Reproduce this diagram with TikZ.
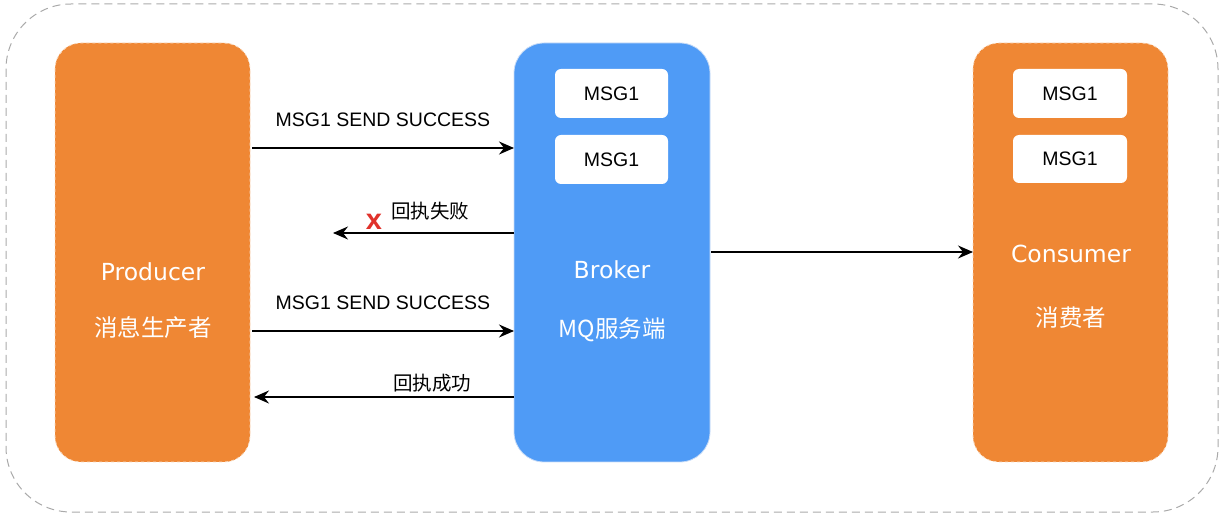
\documentclass[tikz,border=0pt]{standalone}
\usepackage{fontspec}
\setmainfont{Liberation Sans}
\newfontfamily\nodefont{DejaVu Sans}
\newfontfamily\cjk{Noto Sans CJK SC}
\usetikzlibrary{arrows.meta}
\definecolor{orng}{HTML}{EF8734}
\definecolor{orngedge}{HTML}{F8D9BC}
\definecolor{blu}{HTML}{4F9BF6}
\definecolor{bluedge}{HTML}{C8DCF7}
\definecolor{outer}{HTML}{AAAAAA}
\definecolor{xred}{HTML}{E0322B}
\begin{document}
\begin{tikzpicture}[x=1pt,y=-1pt,
  orangebox/.style={fill=orng,draw=orngedge,dashed,line width=0.8pt,rounded corners=26pt},
  bluebox/.style={fill=blu,draw=bluedge,line width=0.8pt,rounded corners=30pt},
  msgbox/.style={fill=white,draw=none,rounded corners=6pt},
  msgtxt/.style={font=\fontsize{19.5}{22}\selectfont,text=black},
  lbl/.style={font=\fontsize{19.5}{22}\selectfont,text=black},
  ntxt/.style={font=\nodefont\fontsize{23.5}{26}\selectfont,text=white},
  ctxt/.style={font=\cjk\fontsize{23.5}{26}\selectfont,text=white},
  arr/.style={-{Stealth[length=15pt,width=13pt,inset=5pt]},line width=1.3pt,black}
]
\useasboundingbox (0,0) rectangle (1224,518);
\draw[outer,dashed,line width=1pt,dash pattern=on 8pt off 5pt,rounded corners=65pt] (6,4) rectangle (1218,512);

% main boxes
\draw[orangebox] (55,43) rectangle (250,462);
\draw[bluebox] (514,43) rectangle (710,462);
\draw[orangebox] (973,43) rectangle (1168,462);

% message boxes
\node[msgbox,minimum width=113pt,minimum height=49pt,msgtxt] (bm1) at (611.5,93.5) {MSG1};
\node[msgbox,minimum width=113pt,minimum height=49pt,msgtxt] (bm2) at (611.5,159.5) {MSG1};
\node[msgbox,minimum width=114pt,minimum height=49pt,msgtxt] (cm1) at (1070,93.5) {MSG1};
\node[msgbox,minimum width=114pt,minimum height=48pt,msgtxt] (cm2) at (1070,159) {MSG1};

% node texts
\node[ntxt] (prodname) at (153,272) {Producer};
\node[ctxt] (prodcn) at (153,328) {消息生产者};
\node[ntxt] (brokname) at (612,270) {Broker};
\node[ctxt] (brokcn) at (612,330) {MQ服务端};
\node[ntxt] (consname) at (1071,254) {Consumer};
\node[ctxt] (conscn) at (1071,318) {消费者};

% coordinates for connectors
\coordinate (p1) at (252,148); \coordinate (b1) at (514,148);
\coordinate (b2) at (514,233); \coordinate (f2) at (333,233);
\coordinate (p3) at (252,331); \coordinate (b3) at (514,331);
\coordinate (b4) at (514,397); \coordinate (p4) at (254,397);
\coordinate (b5) at (711,252); \coordinate (c5) at (973,252);

\draw[arr] (p1) -- (b1);
\draw[arr] (b2) -- (f2);
\draw[arr] (p3) -- (b3);
\draw[arr] (b4) -- (p4);
\draw[arr] (b5) -- (c5);

\node[lbl] (l1) at (383,120) {MSG1 SEND SUCCESS};
\node[lbl,font=\cjk\fontsize{19.5}{22}\selectfont] (l2) at (430,211) {回执失败};
\node[lbl] (l3) at (383,303) {MSG1 SEND SUCCESS};
\node[lbl,font=\cjk\fontsize{19.5}{22}\selectfont] (l4) at (432,383) {回执成功};
\node[font=\bfseries\fontsize{29}{30}\selectfont,text=xred,inner sep=0pt] (xmark) at (374,222) {x};
\end{tikzpicture}
\end{document}
